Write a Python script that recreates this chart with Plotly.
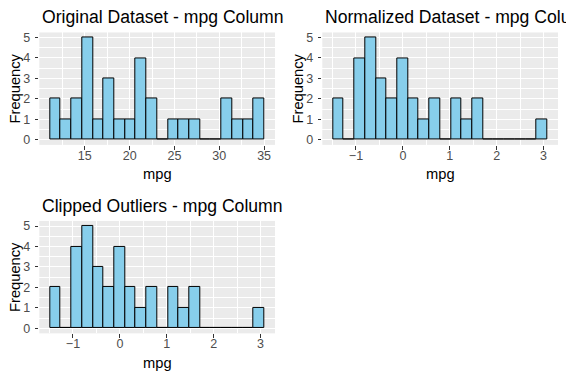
import plotly.graph_objects as go

# ---- data ----
orig_start = 11.12
orig_width = 1.195
orig_counts = [2, 1, 2, 5, 1, 3, 1, 1, 4, 2, 0, 1, 1, 1, 0, 0, 2, 1, 1, 2]

norm_start = -1.49
norm_width = 0.2285
norm_counts = [2, 0, 4, 5, 3, 2, 4, 2, 1, 2, 0, 2, 1, 2, 0, 0, 0, 0, 0, 1]

clip_start = -1.49
clip_width = 0.2285
clip_counts = [2, 0, 4, 5, 3, 2, 4, 2, 1, 2, 0, 2, 1, 2, 0, 0, 0, 0, 0, 1]

titles = ["Original Dataset - mpg Column", "Normalized Dataset - mpg Column", "Clipped Outliers - mpg Column"]
orig_ticks = [15, 20, 25, 30, 35]
norm_ticks = [-1, 0, 1, 2, 3]
y_ticks = [0, 1, 2, 3, 4, 5]

W, H = 566, 380
FONT = "Liberation Sans, Arial, sans-serif"

panels = [
    dict(start=orig_start, width=orig_width, counts=orig_counts, ticks=orig_ticks, title=titles[0],
         px=(39.3, 275.0), py=(31.7, 145.0)),
    dict(start=norm_start, width=norm_width, counts=norm_counts, ticks=norm_ticks, title=titles[1],
         px=(322.3, 558.0), py=(31.7, 145.0)),
    dict(start=clip_start, width=clip_width, counts=clip_counts, ticks=norm_ticks, title=titles[2],
         px=(39.3, 275.0), py=(221.7, 335.0)),
]

fig = go.Figure()
annotations = []
for i, p in enumerate(panels):
    n = len(p["counts"])
    centers = [p["start"] + p["width"] * (k + 0.5) for k in range(n)]
    lo = p["start"]
    hi = p["start"] + p["width"] * n
    span = hi - lo
    xr = [lo - 0.05 * span, hi + 0.05 * span]
    ymax = max(p["counts"])
    yr = [-0.05 * ymax, ymax * 1.05]
    sfx = "" if i == 0 else str(i + 1)
    xa, ya = "x" + sfx, "y" + sfx
    fig.add_trace(go.Bar(x=centers, y=p["counts"], width=[p["width"]] * n,
                         marker=dict(color="#87CEEB", line=dict(color="black", width=1)),
                         xaxis=xa, yaxis=ya, showlegend=False, hoverinfo="x+y"))
    dx = [p["px"][0] / W, p["px"][1] / W]
    dy = [1 - p["py"][1] / H, 1 - p["py"][0] / H]
    tk = p["ticks"]
    step = tk[1] - tk[0]
    common = dict(showline=False, zeroline=False, showgrid=True, gridcolor="white", gridwidth=1.07,
                  ticks="outside", ticklen=3.7, tickwidth=1.07, tickcolor="#333333",
                  tickfont=dict(family=FONT, size=12.5, color="#4D4D4D"))
    fig.layout["xaxis" + sfx] = dict(domain=dx, range=xr, anchor=ya, tickmode="array", tickvals=tk,
                                     ticklabelstandoff=-5,
                                     minor=dict(showgrid=True, gridcolor="white", gridwidth=0.53,
                                                tickvals=[t - step / 2 for t in tk] + [tk[-1] + step / 2]),
                                     **common)
    fig.layout["yaxis" + sfx] = dict(domain=dy, range=yr, anchor=xa, tickmode="array", tickvals=y_ticks,
                                     ticklabelstandoff=2,
                                     minor=dict(showgrid=True, gridcolor="white", gridwidth=0.53,
                                                tickvals=[t + 0.5 for t in y_ticks]),
                                     **common)
    # panel title
    annotations.append(dict(text=p["title"], xref="paper", yref="paper", x=(p["px"][0] + 0.5) / W,
                            y=1 - (p["py"][0] - 15.5) / H, xanchor="left", yanchor="middle", showarrow=False,
                            font=dict(family=FONT, size=17.6, color="black")))
    # x title
    annotations.append(dict(text="mpg", xref="paper", yref="paper", x=(p["px"][0] + p["px"][1]) / 2 / W,
                            y=1 - (p["py"][1] + 29.5) / H, xanchor="center", yanchor="middle", showarrow=False,
                            font=dict(family=FONT, size=14.7, color="black")))
    # y title
    annotations.append(dict(text="Frequency", xref="paper", yref="paper", x=(p["px"][0] - 24.5) / W,
                            y=1 - (p["py"][0] + p["py"][1]) / 2 / H, xanchor="center", yanchor="middle",
                            textangle=-90, showarrow=False,
                            font=dict(family=FONT, size=14.7, color="black")))

fig.update_layout(width=W, height=H, autosize=False, margin=dict(l=0, r=0, t=0, b=0),
                  paper_bgcolor="white", plot_bgcolor="#EBEBEB", bargap=0,
                  annotations=annotations, font=dict(family=FONT))
fig.write_html("out.html", config={"displayModeBar": False},
               post_script="document.body.style.margin='0';document.body.style.overflow='hidden';")
